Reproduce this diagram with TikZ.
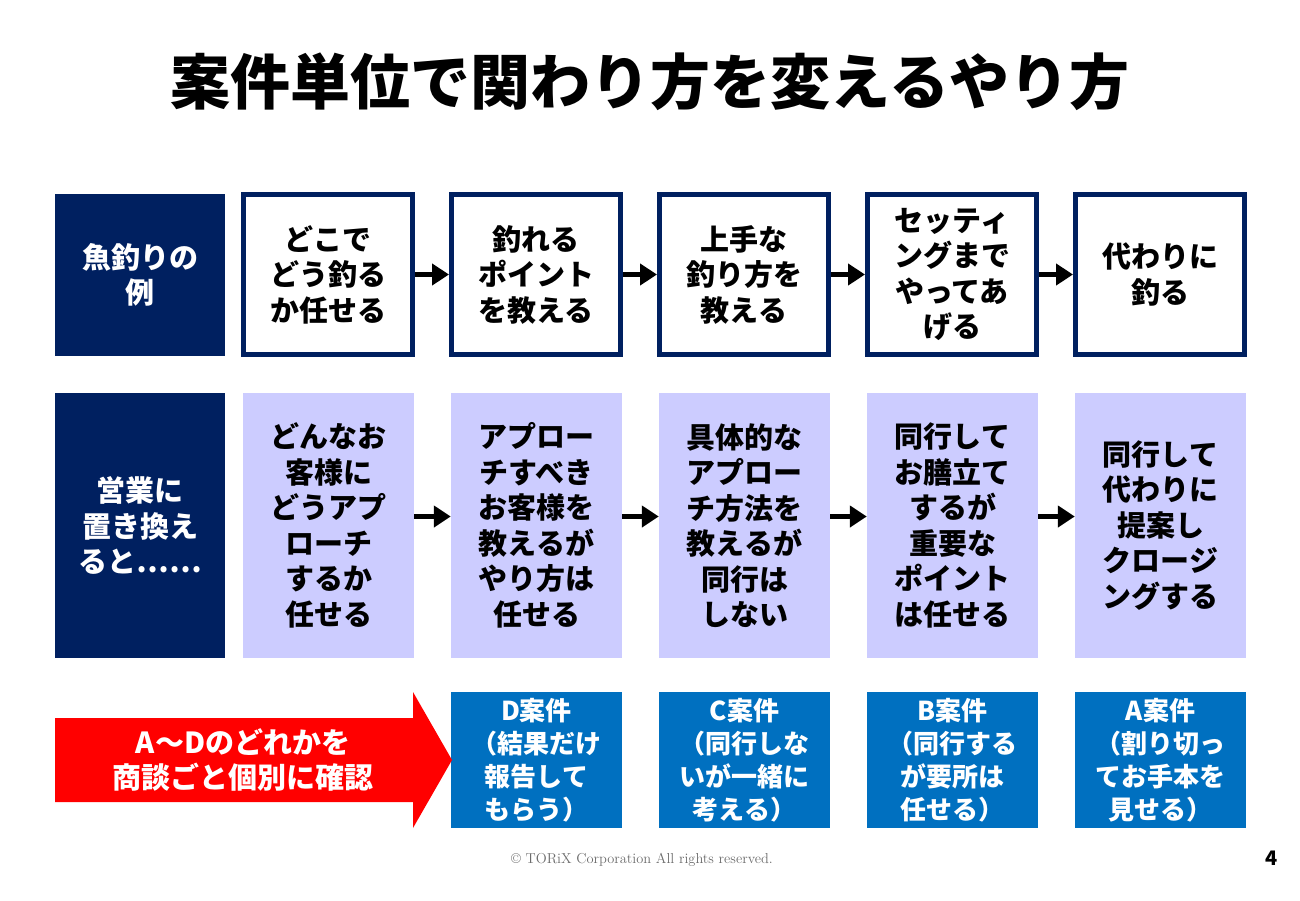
\documentclass[tikz,border=0pt]{standalone}
\usepackage{fontspec}
\newfontfamily\jp{Noto Sans CJK JP}
\usetikzlibrary{arrows.meta, calc}
\definecolor{cnavy}{HTML}{002060}
\definecolor{clav}{HTML}{CCCCFF}
\definecolor{cblue}{HTML}{0070C0}
\definecolor{cred}{HTML}{FF0000}
\definecolor{cgrey}{HTML}{6B6B6B}
\tikzset{
  every picture/.style={font=\jp\bfseries},
  txt/.style={font=\jp\bfseries\fontsize{29}{35.5}\selectfont, align=center, inner sep=0pt},
  head/.style={txt, fill=cnavy, text=white, minimum width=170pt},
  fish/.style={txt, draw=cnavy, line width=5pt, fill=white, minimum width=169pt, minimum height=160pt},
  sales/.style={txt, fill=clav, minimum width=171pt, minimum height=265pt},
  case/.style={font=\jp\bfseries\fontsize{26}{33}\selectfont, align=center, inner sep=0pt,
    fill=cblue, text=white, minimum width=171pt, minimum height=136pt},
  arrow/.style={-{Triangle[length=17pt, width=21pt]}, line width=4.5pt},
}

\begin{document}
\begin{tikzpicture}[x=1pt, y=-1pt]
  \useasboundingbox (0,0) rectangle (1300,900);
  \node[font=\jp\bfseries\fontsize{60}{72}\selectfont] (title) at (650,82) {案件単位で関わり方を変えるやり方};
  % row labels
  \node[head, minimum height=162pt] (h1) at (140,275) {魚釣りの\\例};
  \node[head, minimum height=265pt] (h2) at (140,525.5) {営業に\\置き換え\\ると……};
  % fishing row
  \foreach \i/\xx/\t in {1/328/{どこで\\どう釣る\\か任せる}, 2/536/{釣れる\\ポイント\\を教える},
      3/744/{上手な\\釣り方を\\教える}, 4/952/{セッティ\\ングまで\\やってあ\\げる}, 5/1160/{代わりに\\釣る}}
    \node[fish] (f\i) at (\xx,274.5) {\t};
  % sales row
  \foreach \i/\xx/\t in {1/328.5/{どんなお\\客様に\\どうアプ\\ローチ\\するか\\任せる},
      2/536.5/{アプロー\\チすべき\\お客様を\\教えるが\\やり方は\\任せる},
      3/744.5/{具体的な\\アプロー\\チ方法を\\教えるが\\同行は\\しない},
      4/952.5/{同行して\\お膳立て\\するが\\重要な\\ポイント\\は任せる},
      5/1160.5/{同行して\\代わりに\\提案し\\クロージ\\ングする}}
    \node[sales] (s\i) at (\xx,525.5) {\t};
  % case row
  \foreach \i/\xx/\t in {1/536.5/{D案件\\（結果だけ\\報告して\\もらう）},
      2/744.5/{C案件\\（同行しな\\いが一緒に\\考える）},
      3/952.5/{B案件\\（同行する\\が要所は\\任せる）},
      4/1160.5/{A案件\\（割り切っ\\てお手本を\\見せる）}}
    \node[case] (c\i) at (\xx,760) {\t};
  \foreach \i/\j in {1/2, 2/3, 3/4, 4/5} {
    \draw[arrow] (f\i.east) -- (f\j.west);
    \draw[arrow] ([yshift=9pt]s\i.east) -- ([yshift=9pt]s\j.west);
  }
  % big red arrow
  \fill[cred] (55,718) -- (413,718) -- (413,692) -- (452,760) -- (413,828) -- (413,802) -- (55,802) -- cycle;
  \node[txt, text=white] (pick) at (243,760) {A〜Dのどれかを\\商談ごと個別に確認};
  \node[font=\rmfamily\fontsize{14.4}{16}\selectfont, text=cgrey] (copy) at (642,860) {© TORiX Corporation All rights reserved.};
  \node[font=\jp\bfseries\fontsize{20}{22}\selectfont] (page) at (1272,858) {4};
\end{tikzpicture}
\end{document}
